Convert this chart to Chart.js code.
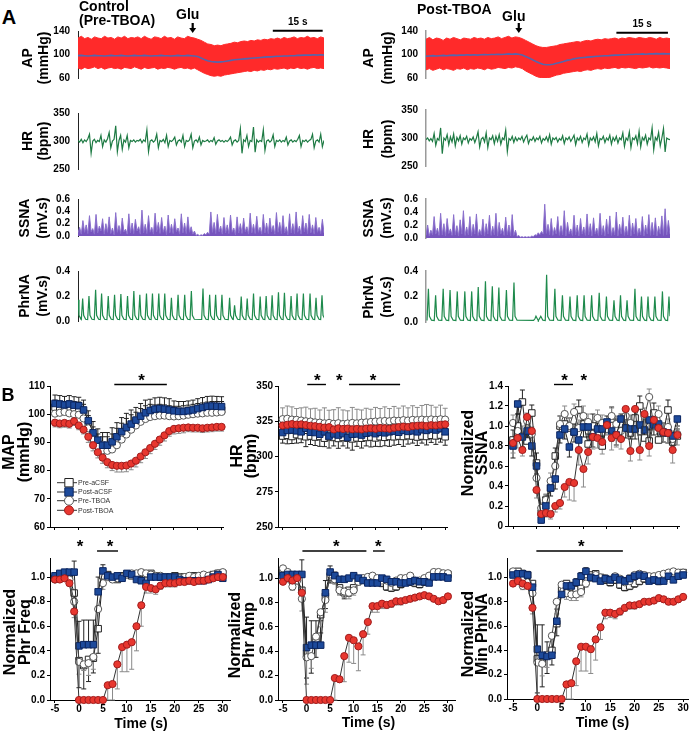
<!DOCTYPE html>
<html>
<head>
<meta charset="utf-8">
<script src="https://cdn.jsdelivr.net/npm/chart.js@4.4.1/dist/chart.umd.min.js"></script>
<style>
html, body { margin: 0; padding: 0; background: #fff; }
#fig { position: relative; width: 690px; height: 732px; overflow: hidden; font-family: "Liberation Sans", Arial, sans-serif; color: #000; }
#fig canvas { position: absolute; }
.t { position: absolute; font-weight: bold; white-space: nowrap; }
.c { position: absolute; font-weight: bold; white-space: nowrap; transform: translate(-50%, -50%); }
.yt { position: absolute; font-weight: bold; white-space: nowrap; text-align: center; transform: translate(-50%, -50%) rotate(-90deg); }
</style>
</head>
<body>
<div id="fig"></div>
<script>
// ===== PANEL A : raw traces =====
// AP envelope (systolic / diastolic) and mean, one value per second
const apSysL = [128,131,127,129,126,130,128,127,131,128,129,126,130,128,131,127,129,128,130,127,131,128,126,130,129,127,131,128,129,126,130,128,127,131,129,128,
  126,124,121,118,117,115,116,115,117,118,119,121,120,122,123,122,124,123,125,124,126,125,127,126,128,126,129,127,128,130,127,129,128,131,128,129,127,130,128];
const apDiaL = [77,75,78,76,77,79,76,78,75,77,78,76,77,75,78,77,76,79,77,75,78,76,77,78,75,77,76,78,77,75,77,78,76,77,75,77,
  74,71,68,66,64,63,64,63,65,66,67,68,69,70,71,72,71,73,72,74,73,75,74,76,75,76,77,75,77,76,78,76,77,75,77,78,76,77,76];
const apMeanL = [98,98.5,98,97.5,98,98.5,98,98,97.5,98,98.5,98,98,98.5,98,97.5,98,98.5,98,98,98.5,98,97.5,98,98,98.5,98,98,97.5,98,98.5,98,98,98.5,98,97.5,
  96.5,94,91.5,89.5,88,87.5,87,87.5,88,89,90,91,91.5,92,92.5,93,93.5,94,94.5,95,95.5,96,96,96.5,97,97,97.5,97.5,98,98,98.5,98.5,99,99,99,99.5,99,99.5,99];

const apSysR = [126,129,125,128,127,124,128,126,129,127,125,128,127,126,129,127,128,126,129,127,128,130,127,129,131,128,130,129,
  127,124,121,118,115,113,112,112,113,114,115,117,118,119,120,121,122,121,123,124,123,125,126,125,127,126,127,128,126,128,127,129,128,127,129,128,127,129,128,126,129,127,128,127];
const apDiaR = [74,76,73,75,77,74,76,75,73,76,75,77,74,76,75,77,76,74,77,75,76,78,77,76,78,77,79,78,
  76,72,69,66,63,61,60,60,61,63,65,66,68,69,70,71,72,71,73,74,73,75,76,75,77,76,77,78,76,78,77,78,77,76,78,77,78,79,77,78,77,78,77,76];
const apMeanR = [97,97.5,98,97.5,98,98.5,98,98.5,99,98.5,99,99,99.5,99,99.5,99,99.5,100,99.5,100,100,100.5,100,100.5,101,100.5,101,100.5,
  99,96.5,94,91,88,85.5,83.5,82.5,82.5,83.5,85,86.5,88,90,91,92.5,93.5,94.5,95,95.5,96,96.5,97,97.5,98,98,98.5,99,99,99.5,99.5,100,100,100.5,100.5,101,100.5,101,101,101.5,101,101.5,101,101];

// HR (bpm), evenly sampled along the record
const hrLeft = [301,298,303,297,302,299,304,312,278,300,303,297,301,299,310,290,302,298,304,315,
  288,300,303,327,281,301,310,285,302,298,310,288,301,299,302,298,301,300,303,297,
  302,299,320,281,300,302,298,301,312,288,301,299,303,297,310,290,301,299,302,307,
  293,300,302,298,310,290,301,299,302,312,288,300,302,298,307,293,301,299,300,302,
  298,301,299,306,294,300,302,299,301,298,301,299,302,307,293,300,302,298,301,322,
  278,302,299,310,290,301,299,325,280,302,298,301,299,320,283,300,302,298,301,311,
  290,301,299,302,298,301,299,307,293,300,302,298,301,299,303,310,290,301,299,302,
  298,301,303,312,288,300,302,298,312,290,301];
const hrRight = [297,300,295,299,294,308,287,299,296,318,272,300,296,306,288,302,293,307,286,301,
  295,304,289,300,297,303,291,299,296,302,292,300,311,284,298,301,293,309,283,300,
  297,304,290,303,294,306,289,300,297,314,276,299,296,303,292,301,295,300,297,303,
  293,300,305,290,298,296,302,294,300,297,303,291,299,296,302,294,306,289,300,297,
  301,293,299,296,304,290,300,297,302,294,299,305,288,300,296,303,292,300,297,307,
  287,300,296,302,293,308,286,299,297,303,292,300,296,305,289,301,295,303,291,300,
  297,309,285,300,296,311,283,300,297,304,290,312,284,301,296,305,289,300,297,318,
  279,301,296,310,286,300,317,275,300,298,297];

// SSNA (mV.s), evenly sampled
const ssnaLeft = [0.05,0.14,0.03,0.25,0.06,0.18,0.04,0.33,0.07,0.12,0.03,0.35,0.05,0.16,0.08,0.28,0.03,0.20,0.06,0.31,
  0.04,0.13,0.02,0.38,0.06,0.17,0.04,0.29,0.07,0.11,0.03,0.36,0.05,0.21,0.04,0.27,0.08,0.15,0.03,0.42,
  0.05,0.19,0.04,0.33,0.06,0.14,0.03,0.37,0.07,0.22,0.04,0.30,0.06,0.16,0.02,0.34,0.05,0.19,0.04,0.28,
  0.07,0.13,0.03,0.36,0.05,0.21,0.04,0.31,0.06,0.15,0.03,0.08,0.01,0.03,0.00,0.02,0.01,0.04,0.02,0.06,
  0.03,0.39,0.06,0.22,0.04,0.35,0.07,0.16,0.03,0.30,0.05,0.18,0.04,0.34,0.06,0.13,0.02,0.31,0.05,0.20,
  0.04,0.29,0.07,0.15,0.03,0.37,0.05,0.19,0.04,0.32,0.06,0.14,0.03,0.35,0.05,0.21,0.04,0.29,0.07,0.17,
  0.03,0.38,0.06,0.22,0.04,0.33,0.05,0.15,0.02,0.36,0.05,0.20,0.04,0.39,0.06,0.16,0.03,0.33,0.07,0.21,
  0.04,0.35,0.05,0.18,0.03,0.30,0.06,0.14,0.04,0.27,0.05];
const ssnaRight = [0.04,0.20,0.03,0.12,0.05,0.33,0.06,0.15,0.04,0.38,0.05,0.22,0.03,0.30,0.07,0.14,0.04,0.36,0.05,0.19,
  0.03,0.28,0.06,0.42,0.04,0.17,0.05,0.33,0.03,0.21,0.06,0.37,0.04,0.13,0.05,0.29,0.03,0.22,0.06,0.35,
  0.04,0.18,0.05,0.38,0.03,0.24,0.06,0.15,0.04,0.32,0.05,0.20,0.03,0.36,0.04,0.12,0.02,0.04,0.01,0.02,
  0.01,0.02,0.01,0.02,0.01,0.03,0.02,0.05,0.04,0.08,0.05,0.10,0.06,0.52,0.07,0.21,0.05,0.30,0.04,0.16,
  0.06,0.33,0.04,0.19,0.05,0.42,0.03,0.24,0.06,0.14,0.04,0.35,0.05,0.20,0.03,0.30,0.06,0.17,0.04,0.37,
  0.05,0.22,0.03,0.31,0.06,0.15,0.04,0.38,0.05,0.19,0.03,0.29,0.06,0.34,0.04,0.16,0.05,0.40,0.03,0.21,
  0.06,0.32,0.04,0.18,0.05,0.35,0.03,0.23,0.06,0.30,0.04,0.15,0.05,0.33,0.03,0.20,0.06,0.36,0.04,0.24,
  0.05,0.31,0.03,0.18,0.06,0.34,0.04,0.45,0.05,0.27,0.06];

// PhrNA bursts: peak time (s) and peak height (mV.s)
const phrPeakTL = [0,1.4,3.3,5.3,7.1,9.1,11.0,12.9,14.9,16.8,18.6,20.6,22.4,24.3,26.1,28.1,30.1,32.1,34.1,37.6,
  39.6,41.4,43.3,45.6,47.1,49.1,50.9,52.8,54.8,56.6,58.4,60.3,62.1,64.1,65.9,67.8,69.8,71.6,73.4];
const phrPeakAL = [0.17,0.18,0.20,0.25,0.22,0.20,0.21,0.215,0.20,0.24,0.21,0.22,0.22,0.22,0.22,0.185,0.21,0.21,0.24,0.26,
  0.21,0.21,0.21,0.185,0.125,0.195,0.18,0.22,0.195,0.20,0.205,0.23,0.225,0.20,0.22,0.22,0.22,0.185,0.205];
const phrPeakTR = [0.7,2.8,5.0,7.0,9.1,11.3,13.3,15.2,17.3,19.3,21.2,23.4,25.6,31.7,33.1,35.1,37.5,39.7,41.9,44.0,
  46.0,48.2,50.4,52.5,54.7,56.6,58.5,60.8,62.7,64.6,66.6,68.8,70.7];
const phrPeakAR = [0.26,0.21,0.26,0.25,0.24,0.24,0.24,0.275,0.32,0.28,0.27,0.25,0.31,0.025,0.03,0.37,0.26,0.21,0.20,0.21,
  0.21,0.21,0.23,0.20,0.17,0.21,0.17,0.26,0.20,0.20,0.20,0.24,0.20];

// ===== PANEL B : group means, t = -5 ... 30 s =====
const TIME = [-5,-4,-3,-2,-1,0,1,2,3,4,5,6,7,8,9,10,11,12,13,14,15,16,17,18,19,20,21,22,23,24,25,26,27,28,29,30];
const X_TICKS = [-5,0,5,10,15,20,25,30];

const mapPreACSF  = [102.5,102.2,102.0,102.3,102.0,101.8,100.5,96.5,92.0,89.5,88.0,88.0,89.0,91.0,92.8,94.5,95.8,97.2,98.5,99.5,100.0,100.3,100.5,100.3,100.0,99.8,99.8,100.0,100.2,100.5,100.8,101.0,101.3,101.5,101.5,101.5];
const mapPostACSF = [103.8,103.6,103.3,103.6,103.2,103.0,101.5,97.7,93.4,90.8,89.0,89.0,90.2,92.0,93.8,95.3,96.5,97.9,99.3,100.5,101.3,101.8,102.0,101.8,101.5,101.2,101.0,101.0,101.2,101.5,102.0,102.4,102.8,102.9,102.8,102.7];
const mapPreTBOA  = [100.2,100.5,100.8,100.3,100.0,99.8,98.5,95.0,91.0,88.5,87.2,87.0,87.5,89.0,91.0,92.8,94.5,96.0,97.3,98.3,99.0,99.3,99.5,99.5,99.3,99.2,99.3,99.5,99.8,100.0,100.2,100.3,100.5,100.5,100.6,100.8];
const mapPostTBOA = [97.0,96.7,96.9,96.6,97.5,96.0,94.5,92.0,89.0,86.5,84.6,83.0,82.0,81.7,81.7,81.8,82.5,83.5,85.0,86.5,88.0,89.5,91.0,92.5,94.0,94.8,95.0,95.2,95.3,95.2,95.2,95.0,95.2,95.3,95.5,95.5];
const mapErrPreACSF  = [2.5,2.5,2.5,2.5,2.5,2.5,3,3,3.5,3.5,4,4,4,4,4,4,4,3.5,3.5,3.5,3.5,3,3,3,3,3,3,3,3,3,3,3,3,3,3,3];
const mapErrPostACSF = [3,3,3,3,3,3,3.5,3.5,4,4,4.5,4.5,5,5,5,5,5,4.5,4.5,4.5,4,4,4,4,4,3.5,3.5,3.5,3.5,3.5,3.5,3.5,3.5,3.5,3.5,3.5];
const mapErrPreTBOA  = [2,2,2,2,2,2,2.5,2.5,3,3,3,3,3,3,3,3,3,3,3,3,3,3,3,3,3,3,3,3,3,3,3,3,3,3,3,3];
const mapErrPostTBOA = [1.5,1.5,1.5,1.5,1.5,1.5,1.5,2,2,2,2,2,2,2.2,2.2,2.2,2.2,2.2,2.2,2.2,2,2,2,2,1.8,1.8,1.8,1.8,1.5,1.5,1.5,1.5,1.5,1.5,1.5,1.5];

const hrPreACSF  = [314.5,315.0,314.2,315.5,314.8,314.0,314.5,313.8,314.2,313.0,314.0,313.5,312.8,313.5,313.0,312.5,313.2,313.0,313.5,313.8,313.2,314.0,313.6,314.2,314.0,314.5,314.2,314.8,314.5,313.8,314.5,314.2,315.0,314.6,315.2,314.0];
const hrPostACSF = [317.0,318.5,318.8,318.2,317.5,320.0,317.2,317.0,315.8,317.5,314.5,316.0,315.2,316.2,313.5,315.8,316.0,315.2,316.5,317.0,316.2,317.2,316.8,317.5,318.0,317.2,318.5,317.8,318.2,317.5,319.0,318.5,319.5,318.8,319.8,317.5];
const hrPreTBOA  = [326.5,326.8,326.2,326.0,325.5,325.0,324.8,324.2,324.0,323.5,323.8,323.2,323.6,323.0,323.4,323.8,323.5,324.0,324.2,324.5,324.8,325.0,325.2,325.0,325.5,325.3,325.8,325.5,326.0,325.8,326.2,325.9,326.3,326.0,326.4,326.2];
const hrPostTBOA = [322.0,322.5,323.0,322.6,322.8,322.3,321.8,321.5,321.0,320.5,320.8,319.2,320.0,319.5,319.8,319.3,319.6,319.2,319.8,320.0,319.6,320.2,320.0,319.7,320.4,320.8,321.2,320.8,321.5,321.8,322.0,321.6,322.2,322.0,322.5,322.8];
const hrErrPreACSF  = [5,6,5,6,5,7,6,6,7,6,8,6,7,6,7,8,6,7,6,7,6,7,6,7,6,6,7,6,5,6,5,6,5,6,5,6];
const hrErrPostACSF = [4,4,5,4,4,5,4,5,4,5,4,5,4,5,4,5,4,5,4,5,4,5,4,5,4,4,5,4,4,5,4,4,5,4,4,4];
const hrErrPreTBOA  = [8,9,9,8,9,10,9,10,9,11,9,10,11,10,9,11,10,9,10,9,10,9,10,9,10,9,10,9,10,9,10,11,10,9,10,8];
const hrErrPostTBOA = [3,3,3,3,3,3,3,3,4,4,4,4,4,4,4,4,4,4,4,4,4,4,4,4,4,3,3,3,3,3,3,3,3,3,3,3];

const ssPreACSF  = [0.86,1.00,1.24,0.85,1.13,0.63,0.13,0.26,0.38,0.70,1.00,1.02,0.98,0.94,1.16,1.02,0.82,1.00,0.93,0.80,1.00,1.07,0.97,1.02,0.98,0.93,1.08,1.20,0.88,0.85,1.13,0.86,0.93,1.16,0.84,0.90];
const ssPostACSF = [0.80,1.22,0.89,0.95,0.80,0.60,0.06,0.20,0.38,0.47,0.91,0.97,0.79,0.94,0.86,0.99,0.99,0.89,0.97,0.97,1.04,0.95,0.91,1.07,0.98,0.97,0.97,1.01,0.96,1.06,1.01,1.02,0.94,0.93,0.90,1.07];
const ssPreTBOA  = [1.03,0.95,0.90,1.05,0.92,0.48,0.18,0.26,0.45,0.60,1.02,1.12,1.00,1.14,0.98,1.10,1.04,0.92,1.08,1.03,0.97,1.10,1.02,0.95,1.10,1.03,0.97,0.95,1.10,1.29,1.00,1.12,0.95,0.99,0.87,0.92];
const ssPostTBOA = [0.83,0.88,0.76,1.09,0.95,0.36,0.12,0.13,0.12,0.20,0.23,0.39,0.44,0.43,0.76,0.57,0.74,0.89,0.88,0.84,1.01,0.88,0.91,0.87,1.17,0.75,1.17,0.76,1.12,0.80,1.06,0.98,0.94,0.93,0.76,0.91];
const ssErrPreACSF  = [0.10,0.12,0.12,0.10,0.08,0.10,0.06,0.05,0.06,0.08,0.10,0.10,0.10,0.08,0.10,0.10,0.10,0.12,0.10,0.10,0.10,0.12,0.10,0.10,0.08,0.10,0.10,0.10,0.10,0.12,0.10,0.10,0.10,0.10,0.10,0.10];
const ssErrPostACSF = [0.12,0.10,0.10,0.10,0.10,0.08,0.03,0.05,0.08,0.10,0.08,0.10,0.10,0.10,0.10,0.10,0.10,0.10,0.10,0.08,0.10,0.10,0.10,0.08,0.10,0.10,0.10,0.10,0.10,0.10,0.10,0.10,0.10,0.10,0.10,0.10];
const ssErrPreTBOA  = [0.08,0.14,0.10,0.08,0.07,0.08,0.05,0.06,0.08,0.08,0.08,0.08,0.08,0.08,0.08,0.10,0.08,0.08,0.08,0.08,0.08,0.08,0.08,0.08,0.08,0.08,0.08,0.08,0.08,0.08,0.08,0.08,0.08,0.08,0.08,0.08];
const ssErrPostTBOA = [0.10,0.10,0.06,0.10,0.10,0.08,0.04,0.04,0.05,0.06,0.06,0.10,0.18,0.18,0.15,0.18,0.12,0.12,0.10,0.12,0.10,0.12,0.12,0.10,0.12,0.10,0.12,0.10,0.12,0.10,0.10,0.10,0.10,0.10,0.13,0.10];

const fqPreACSF  = [0.99,1.00,1.01,1.00,0.87,0.32,0.28,0.33,0.34,0.58,1.01,1.02,0.99,0.98,1.01,1.02,1.01,1.02,1.03,1.02,1.03,1.01,1.00,1.00,1.00,1.01,1.00,1.00,0.99,1.01,1.00,1.00,1.01,1.02,1.03,1.03];
const fqPostACSF = [1.01,1.03,1.04,1.04,1.04,0.44,0.45,0.45,0.45,0.88,1.05,1.01,1.00,1.01,0.99,1.03,1.02,0.98,0.97,0.95,1.00,1.00,1.00,1.00,1.00,1.00,0.98,0.97,0.97,0.97,0.97,0.97,0.98,1.00,1.02,0.99];
const fqPreTBOA  = [0.98,0.99,1.00,0.98,0.80,0.31,0.29,0.30,0.35,0.74,0.95,1.00,0.98,0.99,1.00,1.02,1.03,1.03,1.04,1.03,1.02,1.01,1.01,1.00,1.00,1.00,0.99,1.00,1.01,1.00,1.01,1.02,1.01,1.02,1.03,1.04];
const fqPostTBOA = [0.98,0.98,0.99,0.95,0.72,0,0,0,0,0,0,0.12,0.13,0.29,0.43,0.45,0.47,0.60,0.77,0.92,0.91,0.90,0.93,0.95,0.95,0.95,0.96,0.96,0.97,0.96,0.97,0.97,0.98,0.99,1.00,1.00];
const fqErrPreACSF  = [0.02,0.02,0.02,0.02,0.08,0.22,0.19,0.18,0.12,0.20,0.05,0.03,0.02,0.02,0.02,0.02,0.02,0.02,0.02,0.02,0.02,0.02,0.02,0.02,0.02,0.02,0.02,0.02,0.02,0.02,0.02,0.02,0.02,0.02,0.02,0.02];
const fqErrPostACSF = [0.02,0.02,0.02,0.02,0.09,0.20,0.20,0.20,0.20,0.12,0.05,0.03,0.02,0.02,0.02,0.02,0.02,0.02,0.02,0.02,0.02,0.02,0.02,0.02,0.02,0.02,0.02,0.02,0.02,0.02,0.02,0.02,0.02,0.02,0.02,0.02];
const fqErrPreTBOA  = [0.02,0.02,0.02,0.02,0.10,0.10,0.05,0.10,0.10,0.15,0.05,0.02,0.02,0.02,0.02,0.02,0.02,0.02,0.02,0.02,0.02,0.02,0.02,0.02,0.02,0.02,0.02,0.02,0.02,0.02,0.02,0.02,0.02,0.02,0.02,0.02];
const fqErrPostTBOA = [0.02,0.02,0.02,0.02,0.05,0,0,0,0,0,0,0.12,0.13,0.20,0.20,0.22,0.22,0.20,0.17,0.05,0.04,0.04,0.03,0.03,0.03,0.03,0.02,0.02,0.02,0.02,0.02,0.02,0.02,0.02,0.02,0.02];

const amPreACSF  = [1.05,1.00,0.98,1.00,0.90,0.38,0.40,0.50,0.70,0.85,1.01,1.00,0.92,0.88,0.90,0.92,0.98,0.99,0.97,0.97,0.98,0.96,0.93,0.92,0.93,0.95,0.97,0.97,0.96,0.95,0.97,1.00,1.02,1.03,1.02,1.03];
const amPostACSF = [1.02,1.03,1.03,1.03,1.03,0.43,0.45,0.45,0.45,0.88,1.05,1.02,0.99,0.99,1.00,1.02,1.00,0.98,0.96,0.96,0.96,1.00,0.99,0.97,0.97,0.96,0.96,0.97,0.98,0.97,0.97,0.96,1.01,1.01,1.01,1.00];
const amPreTBOA  = [1.08,1.05,0.93,0.98,0.83,0.35,0.36,0.52,0.72,0.82,1.03,0.99,0.90,0.89,0.88,0.90,0.97,1.00,1.01,1.02,1.00,0.98,0.98,0.96,0.98,1.00,1.00,1.02,0.98,0.98,1.00,1.02,1.05,1.05,1.04,1.04];
const amPostTBOA = [0.97,1.00,0.98,1.00,0.88,0,0,0,0,0,0,0.18,0.17,0.36,0.51,0.49,0.44,0.54,0.64,0.77,0.77,0.79,0.78,0.79,0.81,0.81,0.82,0.83,0.84,0.85,0.86,0.85,0.83,0.81,0.82,0.85];
const amErrPreACSF  = [0.03,0.03,0.03,0.03,0.08,0.20,0.18,0.15,0.15,0.10,0.05,0.04,0.05,0.05,0.05,0.04,0.03,0.03,0.03,0.03,0.03,0.03,0.03,0.03,0.03,0.03,0.03,0.03,0.03,0.03,0.03,0.03,0.03,0.03,0.03,0.03];
const amErrPostACSF = [0.02,0.02,0.02,0.02,0.12,0.25,0.20,0.20,0.20,0.10,0.05,0.03,0.02,0.02,0.02,0.02,0.02,0.02,0.02,0.02,0.02,0.02,0.02,0.02,0.02,0.02,0.02,0.02,0.02,0.02,0.02,0.02,0.02,0.02,0.02,0.02];
const amErrPreTBOA  = [0.03,0.03,0.03,0.03,0.10,0.22,0.10,0.10,0.12,0.10,0.05,0.04,0.04,0.05,0.05,0.04,0.03,0.03,0.03,0.03,0.03,0.03,0.03,0.03,0.03,0.03,0.03,0.03,0.03,0.03,0.03,0.03,0.03,0.03,0.03,0.03];
const amErrPostTBOA = [0.02,0.02,0.02,0.02,0.05,0,0,0,0,0,0,0.18,0.02,0.21,0.20,0.19,0.20,0.17,0.10,0.05,0.05,0.04,0.03,0.03,0.03,0.03,0.02,0.02,0.02,0.02,0.02,0.02,0.02,0.02,0.02,0.02];

const mnPreACSF  = [1.04,1.05,1.00,1.02,0.95,0.33,0.30,0.36,0.40,0.62,0.90,0.95,0.92,0.90,0.91,0.97,1.02,1.03,1.00,0.98,0.96,0.98,0.94,0.92,0.93,0.95,0.97,0.99,1.00,0.98,0.97,0.99,1.02,1.01,1.03,1.04];
const mnPostACSF = [1.02,1.03,1.03,1.02,0.92,0.41,0.36,0.35,0.36,0.64,0.86,0.93,0.93,0.96,1.01,1.05,1.00,0.99,0.97,0.99,0.98,1.00,0.98,0.97,0.99,1.01,1.02,1.01,0.97,0.98,0.97,0.97,1.01,0.98,1.01,1.02];
const mnPreTBOA  = [1.05,0.98,0.93,0.96,0.87,0.30,0.29,0.36,0.52,0.80,0.94,0.87,0.86,0.86,0.88,0.95,1.00,1.02,1.00,0.99,0.98,1.01,0.99,0.96,0.97,1.02,1.03,1.02,1.01,1.01,1.02,1.03,1.04,1.05,1.04,1.04];
const mnPostTBOA = [0.95,0.97,0.95,0.93,0.75,0,0,0,0,0,0,0.12,0.13,0.31,0.43,0.43,0.41,0.49,0.59,0.71,0.71,0.70,0.72,0.75,0.77,0.77,0.78,0.80,0.80,0.81,0.83,0.82,0.80,0.80,0.82,0.84];
const mnErrPreACSF  = [0.03,0.03,0.03,0.03,0.10,0.28,0.20,0.15,0.12,0.10,0.05,0.05,0.05,0.05,0.04,0.03,0.03,0.03,0.03,0.03,0.03,0.03,0.03,0.03,0.03,0.03,0.03,0.03,0.03,0.03,0.03,0.03,0.03,0.03,0.03,0.03];
const mnErrPostACSF = [0.03,0.03,0.03,0.03,0.05,0.20,0.25,0.12,0.15,0.10,0.05,0.04,0.03,0.03,0.03,0.03,0.03,0.03,0.03,0.03,0.03,0.03,0.03,0.03,0.03,0.03,0.03,0.03,0.03,0.03,0.03,0.03,0.03,0.03,0.03,0.03];
const mnErrPreTBOA  = [0.03,0.03,0.03,0.03,0.10,0.28,0.10,0.10,0.10,0.10,0.05,0.05,0.05,0.05,0.04,0.03,0.03,0.03,0.03,0.03,0.03,0.03,0.03,0.03,0.03,0.03,0.03,0.03,0.03,0.03,0.03,0.03,0.03,0.03,0.03,0.03];
const mnErrPostTBOA = [0.02,0.02,0.02,0.02,0.05,0,0,0,0,0,0,0.12,0.13,0.20,0.20,0.20,0.20,0.17,0.10,0.05,0.04,0.04,0.03,0.03,0.03,0.03,0.02,0.02,0.02,0.02,0.02,0.02,0.02,0.02,0.02,0.02];

// significance marks: [from, to] time ranges and star times
const sigMap = { bars: [[7.46, 18.5]], stars: [13.2] };
const sigHr  = { bars: [[0.3, 4.33], [9.3, 20.3]], stars: [2.46, 7.2, 14.5] };
const sigSs  = { bars: [[3.73, 7.78]], stars: [6.0, 10.1] };
const sigFq  = { bars: [[3.77, 8.15]], stars: [0.22, 6.48] };
const sigAm  = { bars: [[-0.88, 12.7], [14.1, 16.6]], stars: [6.3, 15.2] };
const sigMn  = { bars: [[-0.2, 17.6]], stars: [9.06] };

const GROUPS = ['Pre-aCSF', 'Post-aCSF', 'Pre-TBOA', 'Post-TBOA'];

// ===== helpers =====
const FONT = '"Liberation Sans", Arial, Helvetica, sans-serif';
Chart.defaults.font.family = FONT;
Chart.defaults.color = '#000';
const fig = document.getElementById('fig');

const STYLE = [
  { shape: 'rect',   r: 4.6, bg: '#ffffff', bd: '#222', line: '#222', err: '#222', order: 4 },
  { shape: 'rect',   r: 4.6, bg: '#1d4a9b', bd: '#0b2560', line: '#222', err: '#222', order: 2 },
  { shape: 'circle', r: 3.6, bg: '#ffffff', bd: '#555', line: '#444', err: '#8a8a8a', order: 3 },
  { shape: 'circle', r: 3.6, bg: '#e8372f', bd: '#a01c1c', line: '#333', err: '#8a8a8a', order: 1 }
];

function mkCanvas(b) {
  const c = document.createElement('canvas');
  const left = b.pl - b.yW, top = b.pt - b.padT;
  const w = Math.round(b.pr + b.padR - left), h = Math.round(b.pb + b.padB - top);
  c.width = w; c.height = h;
  c.style.left = left + 'px'; c.style.top = top + 'px';
  c.style.width = w + 'px'; c.style.height = h + 'px';
  fig.appendChild(c);
  return c;
}

function text(str, x, y, size, cls) {
  const d = document.createElement('div');
  d.className = cls || 'c';
  d.style.left = x + 'px'; d.style.top = y + 'px'; d.style.fontSize = size + 'px';
  d.innerHTML = str;
  fig.appendChild(d);
  return d;
}

function yTitle(lines, cx, cy, size, lh) {
  const d = document.createElement('div');
  d.className = 'yt';
  d.style.left = cx + 'px'; d.style.top = cy + 'px';
  d.style.fontSize = size + 'px'; d.style.lineHeight = lh + 'px';
  d.innerHTML = lines.join('<br>');
  fig.appendChild(d);
}

function drawMarker(ctx, shape, x, y, r, bg, bd) {
  ctx.beginPath();
  if (shape === 'rect') ctx.rect(x - r, y - r, 2 * r, 2 * r);
  else ctx.arc(x, y, r, 0, Math.PI * 2);
  ctx.fillStyle = bg; ctx.fill();
  ctx.lineWidth = 1; ctx.strokeStyle = bd; ctx.stroke();
}

// error bars drawn under the markers
const errorBars = {
  id: 'errorBars',
  beforeDatasetsDraw(chart) {
    const { ctx, scales: { x, y } } = chart;
    chart.data.datasets.forEach(ds => {
      if (!ds.err) return;
      ctx.save();
      ctx.strokeStyle = ds.errColor; ctx.lineWidth = 1;
      ds.data.forEach((p, i) => {
        const e = ds.err[i];
        if (!e) return;
        const px = x.getPixelForValue(p.x);
        const y0 = y.getPixelForValue(p.y), y1 = y.getPixelForValue(p.y + ds.dir * e);
        ctx.beginPath();
        ctx.moveTo(px, y0); ctx.lineTo(px, y1);
        ctx.moveTo(px - 2.5, y1); ctx.lineTo(px + 2.5, y1);
        ctx.stroke();
      });
      ctx.restore();
    });
  }
};

// significance bars and stars above the plot
const sigMarks = {
  id: 'sigMarks',
  afterDraw(chart, args, opts) {
    if (!opts.bars) return;
    const { ctx, chartArea, scales: { x } } = chart;
    ctx.save();
    ctx.strokeStyle = '#000'; ctx.lineWidth = 1.4;
    opts.bars.forEach(([a, b]) => {
      const yb = chartArea.top - opts.barDy;
      ctx.beginPath(); ctx.moveTo(x.getPixelForValue(a), yb); ctx.lineTo(x.getPixelForValue(b), yb); ctx.stroke();
    });
    ctx.fillStyle = '#000';
    ctx.font = 'bold 17px ' + FONT;
    ctx.textAlign = 'center'; ctx.textBaseline = 'middle';
    opts.stars.forEach(t => ctx.fillText('*', x.getPixelForValue(t), chartArea.top - opts.starDy));
    ctx.restore();
  }
};

// legend inside the MAP plot
const groupLegend = {
  id: 'groupLegend',
  afterDraw(chart, args, opts) {
    if (!opts.show) return;
    const { ctx, chartArea } = chart;
    const rows = [44.3, 35, 26.3, 16.7];
    ctx.save();
    chart.data.datasets.forEach((ds, i) => {
      const st = STYLE[i];
      const y = chartArea.bottom - rows[i];
      const x0 = chartArea.left + 7;
      ctx.strokeStyle = '#333'; ctx.lineWidth = 1;
      ctx.beginPath(); ctx.moveTo(x0, y); ctx.lineTo(x0 + 20, y); ctx.stroke();
      drawMarker(ctx, st.shape, x0 + 12, y, st.shape === 'rect' ? 4.2 : 4.5, st.bg, st.bd);
      ctx.fillStyle = '#333';
      ctx.font = '7px ' + FONT;
      ctx.textAlign = 'left'; ctx.textBaseline = 'middle';
      ctx.fillText(ds.label, x0 + 21, y + 0.5);
    });
    ctx.restore();
  }
};

// Glu arrow and 15 s scale bar on the AP traces
const gluMarks = {
  id: 'gluMarks',
  afterDraw(chart, args, opts) {
    if (opts.glu === undefined) return;
    const { ctx, chartArea, scales: { x } } = chart;
    const top = chartArea.top;
    const gx = x.getPixelForValue(opts.glu);
    ctx.save();
    ctx.fillStyle = '#000'; ctx.strokeStyle = '#000';
    ctx.font = 'bold 14px ' + FONT;
    ctx.textAlign = 'center'; ctx.textBaseline = 'middle';
    ctx.fillText('Glu', gx - 5, top - opts.gluDy);
    ctx.lineWidth = 2.2;
    ctx.beginPath(); ctx.moveTo(gx, top - 8); ctx.lineTo(gx, top - 2); ctx.stroke();
    ctx.beginPath(); ctx.moveTo(gx - 3.5, top - 3); ctx.lineTo(gx + 3.5, top - 3); ctx.lineTo(gx, top + 2); ctx.closePath(); ctx.fill();
    const b0 = x.getPixelForValue(opts.barFrom), b1 = x.getPixelForValue(opts.barFrom + opts.barLen);
    ctx.lineWidth = 2;
    ctx.beginPath(); ctx.moveTo(b0, top + opts.barDy); ctx.lineTo(b1, top + opts.barDy); ctx.stroke();
    ctx.font = 'bold 10px ' + FONT;
    ctx.fillText('15 s', (b0 + b1) / 2, top + opts.barDy - 8);
    ctx.restore();
  }
};

Chart.register(errorBars, sigMarks, groupLegend, gluMarks);

function yScale(b, y) {
  return {
    min: y.min, max: y.max,
    afterFit: s => { s.width = b.yW; },
    afterBuildTicks: s => { s.ticks = y.ticks.map(v => ({ value: v })); },
    border: { display: true, color: b.axis || '#000', width: b.axisW || 1 },
    grid: { display: true, drawOnChartArea: false, drawTicks: !!b.tick, tickLength: b.tick || 0, color: '#000' },
    ticks: { padding: b.tickPad, autoSkip: false, font: { size: 10, weight: 'bold' }, color: '#000', callback: y.fmt }
  };
}

function traceChart(b, datasets, xr, y, plugins) {
  return new Chart(mkCanvas(b), {
    type: 'line',
    data: { datasets },
    options: {
      responsive: false, animation: false, events: [],
      layout: { padding: { top: b.padT, right: b.padR, bottom: b.padB, left: 0 } },
      elements: { point: { radius: 0 }, line: { tension: 0 } },
      plugins: Object.assign({ legend: { display: false }, tooltip: { enabled: false } }, plugins || {}),
      scales: {
        x: { type: 'linear', display: false, min: xr[0], max: xr[1] },
        y: yScale(b, y)
      }
    }
  });
}

function groupChart(b, vals, errs, dirs, xr, y, sig, legend) {
  b.padB = b.xH;
  const datasets = vals.map((v, k) => ({
    label: GROUPS[k],
    data: v.map((val, i) => ({ x: TIME[i], y: val })),
    err: errs[k], dir: dirs[k], errColor: STYLE[k].err,
    borderColor: STYLE[k].line, borderWidth: 1,
    pointStyle: STYLE[k].shape, pointRadius: STYLE[k].r,
    pointBackgroundColor: STYLE[k].bg, pointBorderColor: STYLE[k].bd, pointBorderWidth: 1,
    order: STYLE[k].order, clip: false
  }));
  return new Chart(mkCanvas(b), {
    type: 'line',
    data: { datasets },
    options: {
      responsive: false, animation: false, events: [],
      layout: { padding: { top: b.padT, right: b.padR, bottom: 0, left: 0 } },
      elements: { line: { tension: 0 } },
      plugins: {
        legend: { display: false }, tooltip: { enabled: false },
        sigMarks: Object.assign({ barDy: b.barDy, starDy: b.starDy }, sig),
        groupLegend: { show: !!legend }
      },
      scales: {
        x: {
          type: 'linear', min: xr[0], max: xr[1],
          afterFit: s => { s.height = b.xH; },
          afterBuildTicks: s => { s.ticks = X_TICKS.map(v => ({ value: v })); },
          border: { display: true, color: '#000', width: 1 },
          grid: { display: true, drawOnChartArea: false, drawTicks: true, tickLength: 3, color: '#000' },
          ticks: { display: b.xLabels, padding: 0, autoSkip: false, maxRotation: 0, font: { size: 10, weight: 'bold' }, color: '#000', callback: v => String(v) }
        },
        y: yScale(b, y)
      }
    }
  });
}

function bursts(times, amps) {
  const pts = [];
  times.forEach((t, i) => {
    pts.push({ x: t - 0.4, y: 0.012 }, { x: t, y: amps[i] }, { x: t + 0.3, y: 0.045 }, { x: t + 0.9, y: 0.014 });
  });
  return pts;
}

const idx = arr => arr.map((v, i) => ({ x: i, y: v }));
const f1 = v => v.toFixed(1);
const f0 = v => String(v);

// ===== PANEL A charts =====
function apSets(sys, dia, mean) {
  return [
    { data: idx(mean), borderColor: '#5566ad', borderWidth: 1.6 },
    { data: idx(sys), borderColor: '#ff2a2a', borderWidth: 1, fill: '+1', backgroundColor: '#ff2a2a' },
    { data: idx(dia), borderColor: '#ff2a2a', borderWidth: 1 }
  ];
}

const colA = [
  { pl: 78, pr: 324, axis: '#222', axisW: 1, tL: [0, 74], ap: [apSysL, apDiaL, apMeanL], hr: hrLeft, ss: ssnaLeft, phr: [phrPeakTL, phrPeakAL],
    glu: { glu: 34.5, gluDy: 16, barFrom: 58.6, barLen: 15, barDy: -0.3 }, hrY: [107, 175], ssY: [193, 242], phY: [265, 327] },
  { pl: 426, pr: 670, axis: '#9a9a9a', axisW: 1.5, tL: [0, 71], ap: [apSysR, apDiaR, apMeanR], hr: hrRight, ss: ssnaRight, phr: [phrPeakTR, phrPeakAR],
    glu: { glu: 27.0, gluDy: 14, barFrom: 55.4, barLen: 15, barDy: 1.7 }, hrY: [104, 172], ssY: [193, 244], phY: [265, 328] }
];

colA.forEach(c => {
  const base = { pl: c.pl, pr: c.pr, yW: 44, padR: 6, padB: 8, padT: 8, axis: c.axis, axisW: c.axisW, tickPad: 8 };
  traceChart(Object.assign({}, base, { pt: 31, pb: 84, padT: 31 }), apSets(...c.ap), c.tL,
    { min: 60, max: 140, ticks: [60, 100, 140], fmt: f0 }, { gluMarks: c.glu });
  traceChart(Object.assign({}, base, { pt: c.hrY[0], pb: c.hrY[1] }),
    [{ data: idx(c.hr), borderColor: '#1d7a43', borderWidth: 1.2 }], [0, c.hr.length - 1],
    { min: 250, max: 350, ticks: [250, 300, 350], fmt: f0 });
  traceChart(Object.assign({}, base, { pt: c.ssY[0], pb: c.ssY[1] }),
    [{ data: idx(c.ss), borderColor: '#8a70cc', borderWidth: 1, fill: 'origin', backgroundColor: '#7654bd' }], [0, c.ss.length - 1],
    { min: 0, max: 0.6, ticks: [0, 0.2, 0.4, 0.6], fmt: f1 });
  traceChart(Object.assign({}, base, { pt: c.phY[0], pb: c.phY[1] }),
    [{ data: bursts(c.phr[0], c.phr[1]), borderColor: '#1e8a4c', borderWidth: 1.2 }], c.tL,
    { min: 0, max: 0.4, ticks: [0, 0.2, 0.4], fmt: f1 });
});

// ===== PANEL B charts =====
const topRow = { yW: 40, xH: 8, padT: 20, padR: 8, tick: 3, tickPad: 2, xLabels: false, barDy: 1.5, starDy: 5 };
const botRow = { yW: 40, xH: 20, padT: 24, padR: 8, tick: 3, tickPad: 2, xLabels: true, barDy: 7, starDy: 10.5 };

groupChart(Object.assign({ pl: 50, pr: 223, pt: 386, pb: 527 }, topRow),
  [mapPreACSF, mapPostACSF, mapPreTBOA, mapPostTBOA], [mapErrPreACSF, mapErrPostACSF, mapErrPreTBOA, mapErrPostTBOA], [1, 1, 1, -1],
  [-6.05, 30.3], { min: 60, max: 110, ticks: [60, 70, 80, 90, 100, 110], fmt: f0 }, sigMap, true);

groupChart(Object.assign({ pl: 278, pr: 447, pt: 386, pb: 527 }, topRow),
  [hrPreACSF, hrPostACSF, hrPreTBOA, hrPostTBOA], [hrErrPreACSF, hrErrPostACSF, hrErrPreTBOA, hrErrPostTBOA], [-1, 1, 1, -1],
  [-6.0, 30.4], { min: 250, max: 350, ticks: [250, 275, 300, 325, 350], fmt: f0 }, sigHr);

groupChart(Object.assign({ pl: 508, pr: 679, pt: 386, pb: 526 }, topRow),
  [ssPreACSF, ssPostACSF, ssPreTBOA, ssPostTBOA], [ssErrPreACSF, ssErrPostACSF, ssErrPreTBOA, ssErrPostTBOA], [1, -1, 1, -1],
  [-6.07, 30.35], { min: 0, max: 1.4, ticks: [0, 0.2, 0.4, 0.6, 0.8, 1.0, 1.2, 1.4], fmt: v => (v === 0 ? '0' : v.toFixed(1)) }, sigSs);

groupChart(Object.assign({ pl: 50, pr: 230, pt: 558, pb: 700 }, botRow),
  [fqPreACSF, fqPostACSF, fqPreTBOA, fqPostTBOA], [fqErrPreACSF, fqErrPostACSF, fqErrPreTBOA, fqErrPostTBOA], [-1, 1, -1, -1],
  [-6.04, 31.5], { min: 0, max: 1.155, ticks: [0, 0.2, 0.4, 0.6, 0.8, 1.0], fmt: f1 }, sigFq);

groupChart(Object.assign({ pl: 278, pr: 455, pt: 558, pb: 700 }, botRow),
  [amPreACSF, amPostACSF, amPreTBOA, amPostTBOA], [amErrPreACSF, amErrPostACSF, amErrPreTBOA, amErrPostTBOA], [-1, 1, -1, -1],
  [-6.06, 31.5], { min: 0, max: 1.165, ticks: [0, 0.2, 0.4, 0.6, 0.8, 1.0], fmt: f1 }, sigAm);

groupChart(Object.assign({ pl: 507, pr: 688, pt: 558, pb: 699 }, botRow),
  [mnPreACSF, mnPostACSF, mnPreTBOA, mnPostTBOA], [mnErrPreACSF, mnErrPostACSF, mnErrPreTBOA, mnErrPostTBOA], [-1, 1, -1, -1],
  [-6.24, 31.0], { min: 0, max: 1.16, ticks: [0, 0.2, 0.4, 0.6, 0.8, 1.0], fmt: f1 }, sigMn);

// ===== text =====
text('A', 9, 17, 20);
text('B', 8, 395, 18);
text('Control<br>(Pre-TBOA)', 79, 0, 14, 't').style.lineHeight = '13.5px';
text('Post-TBOA', 417, 1, 14, 't');

yTitle(['AP', '(mmHg)'], 36, 58, 14, 15.8);
yTitle(['HR', '(bpm)'], 36, 141, 14, 15.6);
yTitle(['SSNA', '(mV.s)'], 33, 218, 14, 18.4);
yTitle(['PhrNA', '(mV.s)'], 33, 296, 14, 18.4);
yTitle(['AP', '(mmHg)'], 378, 58, 14, 19);
yTitle(['HR', '(bpm)'], 378, 139, 14, 19);
yTitle(['SSNA', '(mV.s)'], 377, 218, 14, 18.3);
yTitle(['PhrNA', '(mV.s)'], 377, 297, 14, 18.3);

yTitle(['MAP', '(mmHg)'], 16, 452, 16, 15);
yTitle(['HR', '(bpm)'], 244, 456, 16, 14);
yTitle(['Normalized', 'SSNA'], 473.5, 453, 16, 13.5);
yTitle(['Normalized', 'Phr Freq'], 16.5, 632, 16, 15);
yTitle(['Normalized', 'Phr Amp'], 242, 635, 16, 14);
yTitle(['Normalized', 'Min PhrNA'], 474.5, 634, 16, 14);

text('Time (s)', 141, 723, 14);
text('Time (s)', 368.5, 722, 14);
text('Time (s)', 602.5, 722, 14);
</script>
</body>
</html>
